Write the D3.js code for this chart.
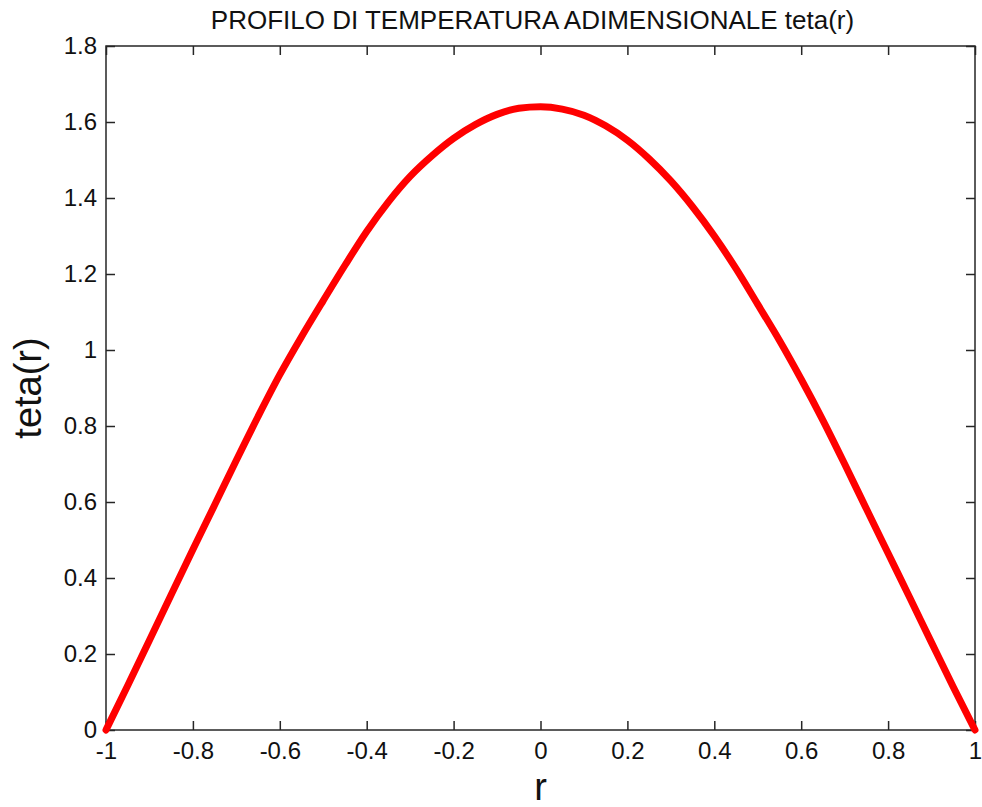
<!DOCTYPE html>
<html>
<head>
<meta charset="utf-8">
<script src="https://cdn.jsdelivr.net/npm/d3@7"></script>
<style>
  body { margin: 0; background: #fff; }
  svg { display: block; font-family: "Liberation Sans", Arial, sans-serif; }
</style>
</head>
<body>
<svg id="chart"></svg>
<script>
// radius values (r) and the dimensionless temperature
let rValues = [-1, -0.95, -0.9, -0.85, -0.8, -0.75, -0.7, -0.65, -0.6, -0.55, -0.5,
  -0.45, -0.4, -0.35, -0.3, -0.25, -0.2, -0.15, -0.1, -0.05, 0,
  0.05, 0.1, 0.15, 0.2, 0.25, 0.3, 0.35, 0.4, 0.45, 0.5,
  0.55, 0.6, 0.65, 0.7, 0.75, 0.8, 0.85, 0.9, 0.95, 1];
let tetaValues = [0, 0.117, 0.236, 0.356, 0.475, 0.592, 0.71, 0.825, 0.935, 1.035, 1.13,
  1.223, 1.312, 1.39, 1.457, 1.511, 1.557, 1.593, 1.62, 1.636, 1.64,
  1.634, 1.618, 1.59, 1.552, 1.503, 1.445, 1.377, 1.3, 1.214, 1.12,
  1.025, 0.923, 0.815, 0.7, 0.582, 0.465, 0.348, 0.23, 0.113, 0];

let xTicks = [-1, -0.8, -0.6, -0.4, -0.2, 0, 0.2, 0.4, 0.6, 0.8, 1];
let xTickLabels = ["-1", "-0.8", "-0.6", "-0.4", "-0.2", "0", "0.2", "0.4", "0.6", "0.8", "1"];
let yTicks = [0, 0.2, 0.4, 0.6, 0.8, 1, 1.2, 1.4, 1.6, 1.8];
let yTickLabels = ["0", "0.2", "0.4", "0.6", "0.8", "1", "1.2", "1.4", "1.6", "1.8"];

let width = 982;
let height = 807;
let margin = {top: 46, right: 7, bottom: 77, left: 106};
let innerW = width - margin.left - margin.right;
let innerH = height - margin.top - margin.bottom;

let svg = d3.select("#chart")
  .attr("width", width)
  .attr("height", height);

let x = d3.scaleLinear().domain([-1, 1]).range([0, innerW]);
let y = d3.scaleLinear().domain([0, 1.8]).range([innerH, 0]);

let g = svg.append("g")
  .attr("transform", "translate(" + margin.left + "," + margin.top + ")");

// axes with ticks pointing inward, like matlab
let styleAxis = function(sel) {
  sel.select(".domain").remove();
  sel.selectAll(".tick line").attr("stroke", "#262626").attr("stroke-width", 1.5);
  sel.selectAll(".tick text").attr("fill", "#111").attr("font-size", 24);
};

g.append("g")
  .attr("transform", "translate(0," + innerH + ")")
  .call(d3.axisBottom(x).tickValues(xTicks).tickSize(-9).tickPadding(12)
    .tickFormat(function(d, i) { return xTickLabels[i]; }))
  .call(styleAxis);

g.append("g")
  .call(d3.axisLeft(y).tickValues(yTicks).tickSize(-9).tickPadding(9)
    .tickFormat(function(d, i) { return yTickLabels[i]; }))
  .call(styleAxis);

g.append("g")
  .call(d3.axisTop(x).tickValues(xTicks).tickSize(-9).tickFormat(""))
  .call(styleAxis);

g.append("g")
  .attr("transform", "translate(" + innerW + ",0)")
  .call(d3.axisRight(y).tickValues(yTicks).tickSize(-9).tickFormat(""))
  .call(styleAxis);

g.append("rect")
  .attr("width", innerW)
  .attr("height", innerH)
  .attr("fill", "none")
  .attr("stroke", "#262626")
  .attr("stroke-width", 1.5);

let line = d3.line()
  .x(function(d, i) { return x(rValues[i]); })
  .y(function(d) { return y(d); })
  .curve(d3.curveMonotoneX);

g.append("path")
  .datum(tetaValues)
  .attr("d", line)
  .attr("fill", "none")
  .attr("stroke", "#ff0000")
  .attr("stroke-width", 7)
  .attr("stroke-linejoin", "round")
  .attr("stroke-linecap", "round");

// title and axis labels
svg.append("text")
  .attr("x", margin.left + innerW / 2 - 8)
  .attr("y", 29)
  .attr("text-anchor", "middle")
  .attr("font-size", 26)
  .attr("fill", "#111")
  .text("PROFILO DI TEMPERATURA ADIMENSIONALE teta(r)");

svg.append("text")
  .attr("transform", "translate(41," + (margin.top + innerH / 2) + ") rotate(-90)")
  .attr("text-anchor", "middle")
  .attr("font-size", 38)
  .attr("fill", "#111")
  .text("teta(r)");

svg.append("text")
  .attr("x", margin.left + innerW / 2)
  .attr("y", 800)
  .attr("text-anchor", "middle")
  .attr("font-size", 38)
  .attr("fill", "#111")
  .text("r");
</script>
</body>
</html>
